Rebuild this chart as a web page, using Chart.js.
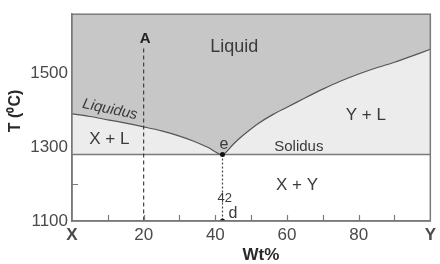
<!DOCTYPE html>
<html><head><meta charset="utf-8">
<script src="https://cdn.jsdelivr.net/npm/chart.js@4.4.1/dist/chart.umd.min.js"></script>
<style>html,body{margin:0;padding:0;background:#fff}#wrap{width:440px;height:264px}</style>
</head><body><div id="wrap"><canvas id="c"></canvas></div>
<script>
// ---- data ----
const liquidusComp = [0, 5, 10, 15, 20, 25, 30, 34, 38, 42, 45, 48, 52, 56, 60, 65, 70, 75, 80, 85, 90, 95, 100]; // wt%
const liquidusT = [1390, 1383, 1374, 1365, 1355, 1344, 1330, 1316, 1299, 1280, 1308, 1334, 1364, 1388, 1408, 1433, 1457, 1479, 1498, 1515, 1530, 1547, 1565];
const solidusT = 1280;
const eutecticComp = 42;
const alloyAComp = 20;
const alloyATop = 1567;
const xMin = 0, xMax = 100, tMin = 1100, tMax = 1660;
const xTickLabels = {0: 'X', 20: '20', 40: '40', 60: '60', 80: '80', 100: 'Y'};
const yTickLabels = [1100, 1300, 1500];
const yInnerTicks = [1200];
// annotation texts, placed in data units
const regionTexts = ['A', 'Liquid', 'Liquidus', 'X + L', 'e', 'Solidus', 'Y + L', 'X + Y', '42', 'd'];
const regionX = [20.4, 45.3, 10.6, 10.4, 42.4, 63.3, 82.0, 62.8, 42.6, 44.9];
const regionT = [1594, 1572, 1402, 1320, 1306, 1301, 1385, 1197, 1162, 1120];

// ---- styles ----
const FF = '"Liberation Sans", Arial, Helvetica, sans-serif';
const textStyles = {
  'A': {font: 'bold 15px ' + FF, color: '#222'},
  'Liquid': {font: '18px ' + FF, color: '#3a3a3a'},
  'Liquidus': {font: 'italic 15px ' + FF, color: '#3a3a3a', rot: 12},
  'X + L': {font: '17px ' + FF, color: '#3a3a3a'},
  'e': {font: '16px ' + FF, color: '#3a3a3a'},
  'Solidus': {font: '15px ' + FF, color: '#3a3a3a'},
  'Y + L': {font: '17px ' + FF, color: '#3a3a3a'},
  'X + Y': {font: '17px ' + FF, color: '#3a3a3a'},
  '42': {font: '13px ' + FF, color: '#3a3a3a'},
  'd': {font: '16px ' + FF, color: '#3a3a3a'}
};

const decor = {
  id: 'decor',
  afterDatasetsDraw(chart) {
    const {ctx, chartArea: a, scales: {x, y}} = chart;
    ctx.save();
    // frame
    ctx.strokeStyle = '#7a7a7a';
    ctx.lineWidth = 1.5;
    ctx.strokeRect(a.left, a.top, a.right - a.left, a.bottom - a.top);
    // inward ticks
    ctx.lineWidth = 1.2;
    ctx.beginPath();
    for (let v = xMin + 10; v < xMax; v += 10) {
      const px = Math.round(x.getPixelForValue(v)) + 0.5;
      ctx.moveTo(px, a.bottom); ctx.lineTo(px, a.bottom - 6);
    }
    yInnerTicks.forEach(v => {
      const py = Math.round(y.getPixelForValue(v)) + 0.5;
      ctx.moveTo(a.left, py); ctx.lineTo(a.left + 6, py);
    });
    ctx.stroke();
    // region texts
    ctx.textAlign = 'center';
    ctx.textBaseline = 'middle';
    regionTexts.forEach((t, i) => {
      const s = textStyles[t];
      ctx.save();
      ctx.translate(x.getPixelForValue(regionX[i]), y.getPixelForValue(regionT[i]));
      if (s.rot) ctx.rotate(s.rot * Math.PI / 180);
      ctx.font = s.font;
      ctx.fillStyle = s.color;
      ctx.fillText(t, 0, 0);
      ctx.restore();
    });
    // axis titles
    ctx.fillStyle = '#2a2a2a';
    ctx.font = 'bold 17px ' + FF;
    ctx.fillText('Wt%', x.getPixelForValue(52.7), 255);
    ctx.save();
    ctx.translate(16, y.getPixelForValue(1398));
    ctx.rotate(-Math.PI / 2);
    ctx.font = 'bold 16px ' + FF;
    ctx.fillText('T (\u2070C)', 0, 0);
    ctx.restore();
    ctx.restore();
  }
};

new Chart(document.getElementById('c'), {
  type: 'line',
  data: {
    datasets: [
      {label: 'Solidus', data: [{x: xMin, y: solidusT}, {x: xMax, y: solidusT}],
       borderColor: '#7a7a7a', borderWidth: 1.6, pointRadius: 0, fill: 'end', backgroundColor: '#ececec', order: 4},
      {label: 'Liquidus', data: liquidusComp.map((c, i) => ({x: c, y: liquidusT[i]})),
       borderColor: '#555', borderWidth: 1.2, pointRadius: 0, fill: 'end', backgroundColor: '#c7c7c7',
       tension: 0.3, order: 3},
      {label: 'Alloy A', data: [{x: alloyAComp, y: alloyATop}, {x: alloyAComp, y: tMin}],
       borderColor: '#333', borderWidth: 1.1, borderDash: [4, 3], pointRadius: 0, fill: false, order: 1},
      {label: 'e-d', data: [{x: eutecticComp, y: solidusT}, {x: eutecticComp, y: tMin}],
       borderColor: '#444', borderWidth: 1.2, borderDash: [2, 2], pointRadius: 2.5,
       pointBackgroundColor: '#111', pointBorderWidth: 0, fill: false, order: 0}
    ]
  },
  options: {
    responsive: true, maintainAspectRatio: false, animation: false,
    layout: {padding: {top: 13, right: 4, left: 0, bottom: 0}},
    plugins: {legend: {display: false}, tooltip: {enabled: false}},
    scales: {
      x: {
        type: 'linear', min: xMin, max: xMax,
        afterFit: s => { s.height = 43; },
        grid: {drawOnChartArea: false, drawTicks: false},
        border: {color: '#7a7a7a', width: 1.5},
        ticks: {
          stepSize: 10, autoSkip: false, maxRotation: 0, padding: 4,
          color: '#4a4a4a',
          font: c => (c.tick && (c.tick.value === xMin || c.tick.value === xMax))
            ? {family: FF, size: 17, weight: 'bold'} : {family: FF, size: 17},
          callback: v => (xTickLabels[v] !== undefined ? xTickLabels[v] : '')
        }
      },
      y: {
        type: 'linear', min: tMin, max: tMax,
        afterFit: s => { s.width = 72; },
        grid: {drawOnChartArea: false, drawTicks: false},
        border: {color: '#7a7a7a', width: 1.5},
        ticks: {
          stepSize: 100, autoSkip: false, padding: 4, color: '#4a4a4a',
          font: {family: FF, size: 17},
          callback: v => (yTickLabels.includes(v) ? String(v) : '')
        }
      }
    }
  },
  plugins: [decor]
});
</script></body></html>
